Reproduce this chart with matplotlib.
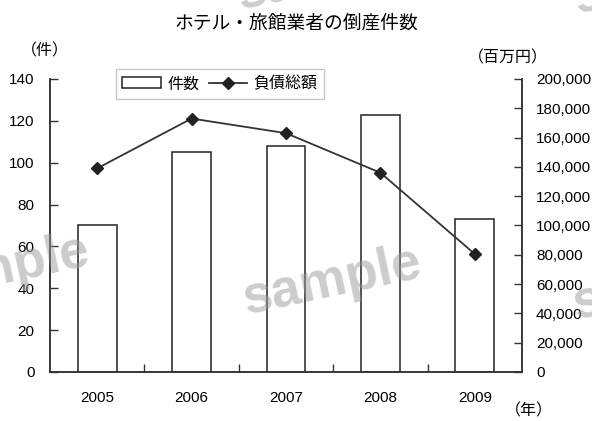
import matplotlib
matplotlib.use("Agg")
import matplotlib.pyplot as plt

plt.rcParams['font.family'] = ['Liberation Sans', 'Noto Sans CJK JP', 'DejaVu Sans']

years = ["2005", "2006", "2007", "2008", "2009"]
counts = [70, 105, 108, 123, 73]                       # 件数
debt = [139000, 173000, 163000, 136000, 80500]         # 負債総額 (百万円)

fig = plt.figure(figsize=(5.92, 4.21), dpi=100)
ax = fig.add_axes([0.0845, 0.1164, 0.7973, 0.696])
ax2 = ax.twinx()

x = range(len(years))
bars = ax.bar(x, counts, width=0.41, color="white", edgecolor="#222222",
              linewidth=1.1, label="件数", zorder=2)
line, = ax2.plot(x, debt, color="#333333", linewidth=1.3, marker="D",
                 markersize=6, markerfacecolor="#222222", markeredgecolor="#222222",
                 label="負債総額", zorder=3)

ax.set_xlim(-0.5, 4.5)
ax.set_ylim(0, 140)
ax2.set_ylim(0, 200000)
ax.set_yticks(range(0, 141, 20))
ax2.set_yticks(range(0, 200001, 20000))
ax2.set_yticklabels([f"{v:,}" for v in range(0, 200001, 20000)])

# category labels in the middle, small ticks between categories
ax.set_xticks(list(x))
ax.set_xticklabels(years)
ax.set_xticks([0.5, 1.5, 2.5, 3.5], minor=True)
ax.tick_params(axis="x", which="major", length=0, pad=14, labelsize=11)
ax.tick_params(axis="x", which="minor", direction="in", length=6, width=1, color="#333333")
ax.tick_params(axis="y", direction="in", length=6, width=1, color="#333333",
               labelsize=11, pad=11)
ax2.tick_params(axis="y", direction="in", length=6, width=1, color="#333333",
                labelsize=11, pad=10)

for a in (ax, ax2):
    a.spines["top"].set_visible(False)
    for s in ("left", "right", "bottom"):
        a.spines[s].set_color("#333333")
        a.spines[s].set_linewidth(1.1)

ax2.set_zorder(ax.get_zorder() + 1)
ax2.patch.set_visible(False)

leg = ax2.legend([bars, line], ["件数", "負債総額"], loc="upper left",
                 bbox_to_anchor=(0.14, 1.034), borderaxespad=0, ncol=2,
                 frameon=True, fancybox=False, edgecolor="#bbbbbb",
                 handlelength=2.4, handletextpad=0.4, columnspacing=0.6,
                 borderpad=0.4, prop={"family": ["Noto Sans CJK JP"], "size": 11.5})
leg.get_frame().set_linewidth(1)

fig.text(0.5, 0.945, "ホテル・旅館業者の倒産件数", ha="center", va="center",
         fontsize=13.5, family=["Noto Sans CJK JP"])
fig.text(0.075, 0.88, "（件）", ha="center", va="center", fontsize=11.5,
         family=["Noto Sans CJK JP"])
fig.text(0.79, 0.862, "（百万円）", ha="left", va="center", fontsize=11.5,
         family=["Noto Sans CJK JP"])
fig.text(0.893, 0.025, "（年）", ha="center", va="center", fontsize=11.5,
         family=["Noto Sans CJK JP"])

# tiled watermark
for wx, wy in [(0.0, 0.36), (0.56, 0.33), (1.118, 0.32), (0.55, 1.055), (1.12, 1.045)]:
    fig.text(wx, wy, "sample", ha="center", va="center", fontsize=38,
             fontweight="bold", color="#999999", alpha=0.5, rotation=12,
             family=["Liberation Sans"], zorder=10)

fig.savefig("out.png", dpi=100)
